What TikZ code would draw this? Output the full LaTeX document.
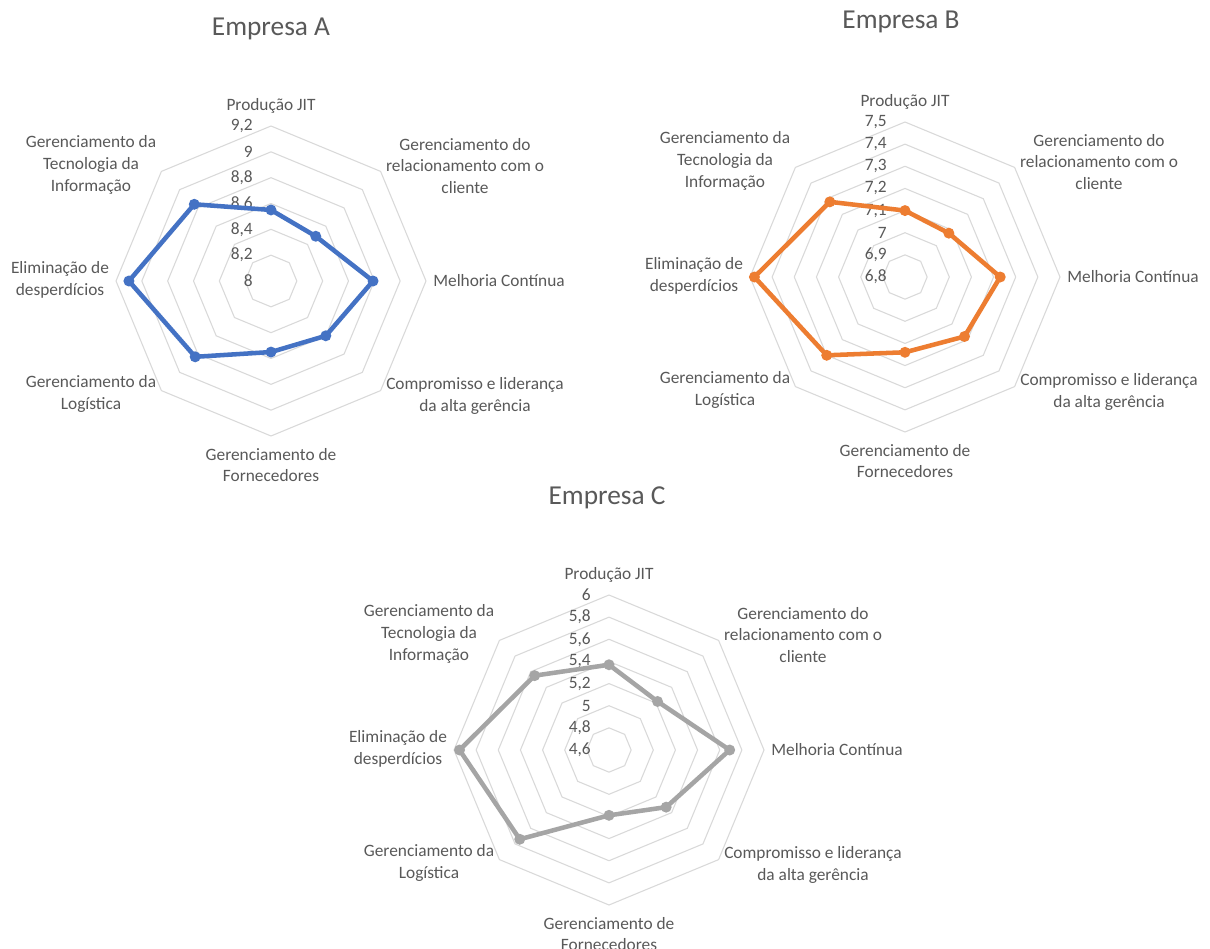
\documentclass[tikz,border=0pt]{standalone}
\usepackage{fontspec}
\setmainfont{Carlito}
\definecolor{gridc}{HTML}{D9D9D9}
\definecolor{txt}{HTML}{595959}
\definecolor{serA}{HTML}{4472C4}
\definecolor{serB}{HTML}{ED7D31}
\definecolor{serC}{HTML}{A5A5A5}
\tikzset{
  gridline/.style={draw=gridc, line width=0.8pt, line join=round},
  ticklabel/.style={anchor=east, inner sep=0pt, text=txt, font=\fontsize{13}{16}\selectfont},
  catlabel/.style={align=center, inner sep=0pt, text=txt, font=\fontsize{13}{16.3}\selectfont},
  charttitle/.style={inner sep=0pt, text=txt, font=\fontsize{20.5}{24}\selectfont},
  series/.style={draw=#1, line width=3.4pt, line join=round},
}
% #1 name, #2 centre x, #3 centre y (pixels, downwards), #4 number of rings,
% #5 axis minimum, #6 axis maximum, #7 tick labels, #8 values, #9 colour
\newcommand\radarchart[9]{%
  \begin{scope}[shift={(#2,-#3)}]
    \foreach \k in {1,...,#4}{%
      \pgfmathsetmacro\rr{155*\k/#4}%
      \draw[gridline] (90:\rr) \foreach \a in {45,0,...,-225}{ -- (\a:\rr)} -- cycle;
    }
    \foreach \t [count=\k from 0] in {#7}{%
      \pgfmathsetmacro\rr{155*\k/#4}%
      \node[ticklabel] (#1-t\k) at (-18,\rr) {\t};
    }
    \foreach \v [count=\i from 0] in {#8}{%
      \pgfmathsetmacro\rr{155*(\v-#5)/(#6-#5)}%
      \coordinate (#1-p\i) at ({90-45*\i}:\rr);
    }
    \draw[series=#9] (#1-p0) -- (#1-p1) -- (#1-p2) -- (#1-p3) -- (#1-p4)
      -- (#1-p5) -- (#1-p6) -- (#1-p7) -- cycle;
    \foreach \i in {0,...,7}{\fill[#9] (#1-p\i) circle (5.5);}
    \node[catlabel] (#1-c0) at (0,175) {Produção JIT};
    \node[catlabel] (#1-c1) at (194,115) {Gerenciamento do\\relacionamento com o\\cliente};
    \node[catlabel] (#1-c2) at (228,0) {Melhoria Contínua};
    \node[catlabel] (#1-c3) at (204,-115) {Compromisso e liderança\\da alta gerência};
    \node[catlabel] (#1-c4) at (0,-184) {Gerenciamento de\\Fornecedores};
    \node[catlabel] (#1-c5) at (-180,-113) {Gerenciamento da\\Logística};
    \node[catlabel] (#1-c6) at (-211,1) {Eliminação de\\desperdícios};
    \node[catlabel] (#1-c7) at (-180,116) {Gerenciamento da\\Tecnologia da\\Informação};
  \end{scope}}
\begin{document}
\begin{tikzpicture}[x=0.75pt, y=0.75pt]
  \useasboundingbox (0,0) rectangle (1210,-949);
  \fill[white] (0,0) rectangle (1210,-949);

  \node[charttitle] (titleA) at (271,-29) {Empresa A};
  \radarchart{A}{271}{281}{6}{8}{9.2}
    {8,{8,2},{8,4},{8,6},{8,8},9,{9,2}}
    {8.55,8.49,8.79,8.60,8.55,8.83,9.10,8.84}{serA}

  \node[charttitle] (titleB) at (901,-22) {Empresa B};
  \radarchart{B}{905}{277}{7}{6.8}{7.5}
    {{6,8},{6,9},7,{7,1},{7,2},{7,3},{7,4},{7,5}}
    {7.10,7.08,7.23,7.18,7.14,7.30,7.48,7.28}{serB}

  \node[charttitle] (titleC) at (607,-498) {Empresa C};
  \radarchart{C}{609}{750}{7}{4.6}{6.0}
    {{4,6},{4,8},5,{5,2},{5,4},{5,6},{5,8},6}
    {5.37,5.22,5.69,5.33,5.19,5.74,5.95,5.55}{serC}
\end{tikzpicture}
\end{document}
